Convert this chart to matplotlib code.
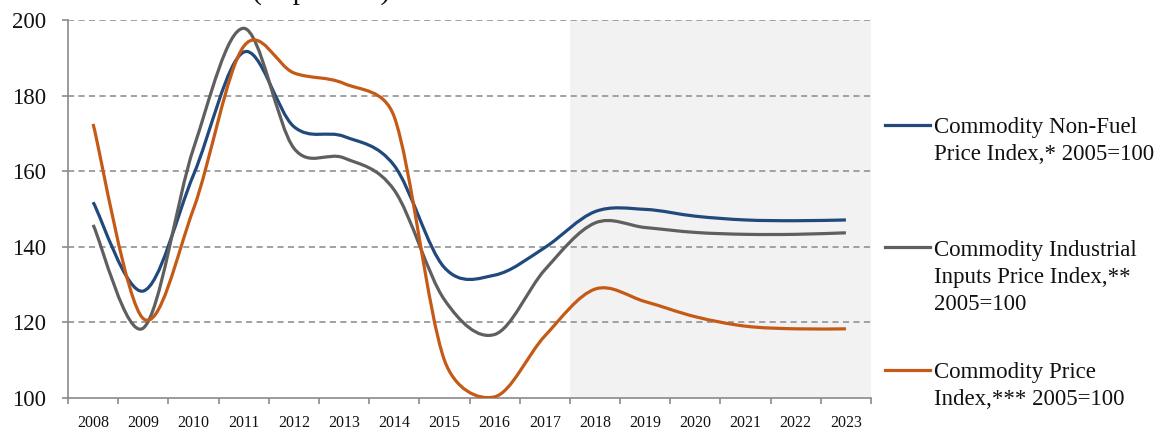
import numpy as np
import matplotlib
matplotlib.use('Agg')
from matplotlib import pyplot as plt
from matplotlib.path import Path
from matplotlib.patches import PathPatch
from matplotlib.lines import Line2D

years = ['2008', '2009', '2010', '2011', '2012', '2013', '2014', '2015',
         '2016', '2017', '2018', '2019', '2020', '2021', '2022', '2023']
non_fuel = [151.8, 128.3, 159.0, 191.5, 171.8, 169.2, 161.5, 134.5,
            132.5, 139.8, 149.3, 149.9, 148.1, 147.1, 146.9, 147.1]
industrial = [145.8, 118.5, 166.0, 197.8, 166.1, 163.5, 155.0, 126.0,
              116.8, 133.9, 146.3, 145.1, 143.8, 143.3, 143.3, 143.7]
commodity = [172.5, 121.0, 150.0, 193.0, 186.0, 183.2, 174.4, 110.0,
             100.3, 116.4, 128.8, 125.5, 121.5, 119.0, 118.3, 118.3]
labels = ['Commodity Non-Fuel\nPrice Index,* 2005=100',
          'Commodity Industrial\nInputs Price Index,**\n2005=100',
          'Commodity Price\nIndex,*** 2005=100']
colors = ['#22497c', '#5f5f5f', '#c55a16']
forecast_from = '2018'

serif = 'Liberation Serif'
W, H = 1162, 432


def smooth_path(ax, xs, ys):
    # excel style smoothing: bezier segments, control arms capped at half the segment
    p = ax.transData.transform(np.column_stack([xs, ys]).astype(float))
    n = len(p)
    verts, codes = [p[0]], [Path.MOVETO]
    for i in range(n - 1):
        p0 = p[i - 1] if i > 0 else p[i]
        p1, p2 = p[i], p[i + 1]
        p3 = p[i + 2] if i + 2 < n else p[i + 1]
        d12 = np.hypot(*(p2 - p1))
        d02 = np.hypot(*(p2 - p0))
        d13 = np.hypot(*(p3 - p1))
        f1 = 1 / 6 if d02 / 6 < d12 / 2 else d12 / 2 / d02
        f2 = 1 / 6 if d13 / 6 < d12 / 2 else d12 / 2 / d13
        verts += [p1 + f1 * (p2 - p0), p2 - f2 * (p3 - p1), p2]
        codes += [Path.CURVE4] * 3
    return Path(ax.transData.inverted().transform(np.array(verts)), codes)


fig = plt.figure(figsize=(W / 100, H / 100), dpi=100)
ax = fig.add_axes([68 / W, 1 - 398 / H, (871 - 68) / W, (398 - 20) / H])

x = np.arange(len(years))
ax.set_xlim(-0.5, len(years) - 0.5)
ax.set_ylim(100, 200)

ax.axvspan(years.index(forecast_from) - 0.5, len(years) - 0.5,
           color='#f2f2f2', lw=0, zorder=0)

for yv in [120, 140, 160, 180, 200]:
    ax.axhline(yv, color='#9a9a9a', lw=1.3, ls=(0, (3.4, 2.4)), zorder=1)

for vals, c in zip([non_fuel, industrial, commodity], colors):
    ax.add_patch(PathPatch(smooth_path(ax, x, vals), fill=False, edgecolor=c,
                           lw=2.3, capstyle='butt', zorder=3))

for s in ['top', 'right']:
    ax.spines[s].set_visible(False)
for s in ['left', 'bottom']:
    ax.spines[s].set_color('#8a8a8a')
    ax.spines[s].set_linewidth(1.2)

ax.set_yticks([100, 120, 140, 160, 180, 200])
ax.tick_params(axis='y', length=4.5, width=1.2, color='#8a8a8a', pad=11,
               labelsize=16.5, labelcolor='#111111')
for t in ax.get_yticklabels():
    t.set_fontfamily(serif)

ax.set_xticks(np.arange(-0.5, len(years), 1.0))
ax.set_xticklabels([])
ax.tick_params(axis='x', which='major', length=4.5, width=1.2, color='#8a8a8a')
ax.set_xticks(x, minor=True)
ax.set_xticklabels(years, minor=True, fontfamily=serif, fontsize=11.5,
                   color='#111111')
ax.tick_params(axis='x', which='minor', length=0, pad=12)

# partly cut heading above the chart
fig.text(252 / W, 1 + 1 / H, '(in percent)', fontfamily=serif, fontsize=21.5,
         ha='left', va='baseline', color='#111111')

# legend at the right, line beside the first text row
rows = [125, 247, 370]
for lab, c, yy in zip(labels, colors, rows):
    fig.add_artist(Line2D([885 / W, 930 / W], [1 - yy / H, 1 - yy / H],
                          color=c, lw=2.3, transform=fig.transFigure))
    last = yy + 7 + 28 * lab.count('\n')
    fig.text(934 / W, 1 - last / H, lab, fontfamily=serif, fontsize=16.5,
             ha='left', va='baseline', linespacing=1.38, color='#111111')

fig.savefig('out.png', dpi=100)
